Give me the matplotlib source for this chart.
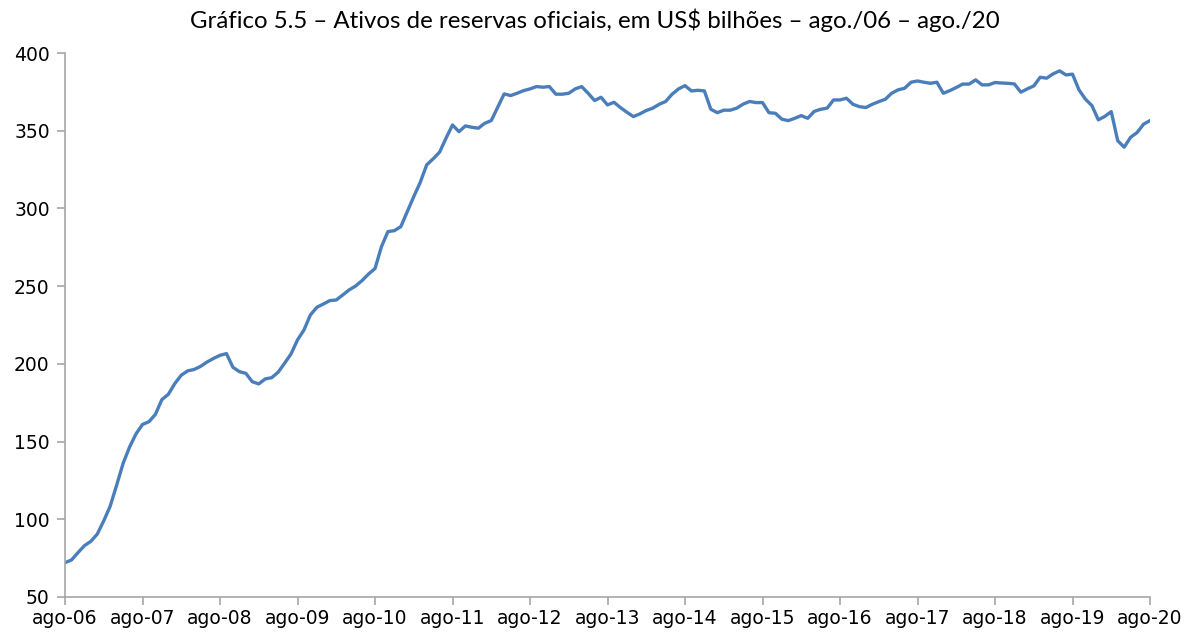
import matplotlib
matplotlib.use("Agg")
import matplotlib.pyplot as plt

# Monthly values, US$ billions (ago./06 - ago./20)
y2006_07 = [72.1, 73.8, 78.5, 83.0, 85.8, 90.5, 99.0, 108.5, 122.0, 136.0, 146.5, 155.0]
y2007_08 = [161.0, 162.8, 167.5, 177.0, 180.4, 187.3, 192.7, 195.5, 196.4, 198.4, 201.2, 203.5]
y2008_09 = [205.5, 206.6, 197.8, 195.0, 193.9, 188.5, 187.1, 190.3, 191.1, 194.6, 200.4, 206.4]
y2009_10 = [215.4, 221.8, 231.5, 236.4, 238.5, 240.7, 241.1, 244.3, 247.6, 250.1, 253.6, 257.8]
y2010_11 = [261.3, 275.4, 285.1, 285.7, 288.3, 298.0, 307.6, 316.7, 328.0, 331.9, 336.2, 345.2]
y2011_12 = [353.7, 349.4, 353.1, 352.2, 351.6, 354.8, 356.5, 365.1, 373.7, 372.6, 374.1, 375.8]
y2012_13 = [376.9, 378.4, 378.0, 378.4, 373.5, 373.5, 374.1, 376.9, 378.4, 374.1, 369.4, 371.5]
y2013_14 = [366.6, 368.3, 364.9, 361.9, 359.1, 360.8, 363.0, 364.5, 367.0, 368.8, 373.5, 376.9]
y2014_15 = [379.0, 375.6, 376.0, 375.6, 363.8, 361.6, 363.2, 363.2, 364.5, 367.1, 368.8, 368.1]
y2015_16 = [368.1, 361.6, 361.2, 357.4, 356.5, 358.0, 359.7, 358.0, 362.4, 363.8, 364.5, 369.8]
y2016_17 = [369.8, 370.9, 367.0, 365.5, 364.9, 367.0, 368.7, 370.2, 374.1, 376.3, 377.3, 381.2]
y2017_18 = [382.0, 381.2, 380.5, 381.2, 374.1, 375.8, 377.8, 380.0, 380.0, 382.7, 379.5, 379.5]
y2018_19 = [381.0, 380.7, 380.5, 380.1, 374.8, 376.9, 378.8, 384.4, 383.8, 386.6, 388.5, 385.9]
y2019_20 = [386.4, 376.3, 370.3, 366.2, 357.0, 359.2, 362.3, 343.6, 339.4, 345.8, 348.8, 354.2, 356.5]

values = (y2006_07 + y2007_08 + y2008_09 + y2009_10 + y2010_11 + y2011_12 + y2012_13
          + y2013_14 + y2014_15 + y2015_16 + y2016_17 + y2017_18 + y2018_19 + y2019_20)
months = list(range(len(values)))

tick_labels = ["ago-06", "ago-07", "ago-08", "ago-09", "ago-10", "ago-11", "ago-12",
               "ago-13", "ago-14", "ago-15", "ago-16", "ago-17", "ago-18", "ago-19", "ago-20"]
tick_pos = [12 * k for k in range(len(tick_labels))]
y_ticks = [50, 100, 150, 200, 250, 300, 350, 400]

title = "Gráfico 5.5 – Ativos de reservas oficiais, em US$ bilhões – ago./06 – ago./20"

fig = plt.figure(figsize=(11.90, 6.32), dpi=100)
ax = fig.add_axes([65 / 1190, 1 - 597 / 632, (1150 - 65) / 1190, (597 - 53) / 632])

ax.plot(months, values, color="#4a7ebb", linewidth=2.4, solid_joinstyle="round")

ax.set_xlim(0, len(values) - 1)
ax.set_ylim(50, 400)
ax.set_xticks(tick_pos)
ax.set_xticklabels(tick_labels)
ax.set_yticks(y_ticks)

for s in ["top", "right"]:
    ax.spines[s].set_visible(False)
for s in ["left", "bottom"]:
    ax.spines[s].set_color("#a6a6a6")
    ax.spines[s].set_linewidth(1.2)

ax.tick_params(axis="both", direction="out", color="#a6a6a6", width=1.2, length=6,
               labelsize=13.5, labelcolor="black")
ax.tick_params(axis="x", pad=3)
ax.tick_params(axis="y", pad=5)
for lab in ax.get_xticklabels() + ax.get_yticklabels():
    lab.set_fontfamily("DejaVu Sans")

fig.text(0.5, 1 - 20 / 632, title, ha="center", va="center", fontsize=17.3,
         family=["Lato", "DejaVu Sans"])

fig.savefig("out.png", dpi=100)
